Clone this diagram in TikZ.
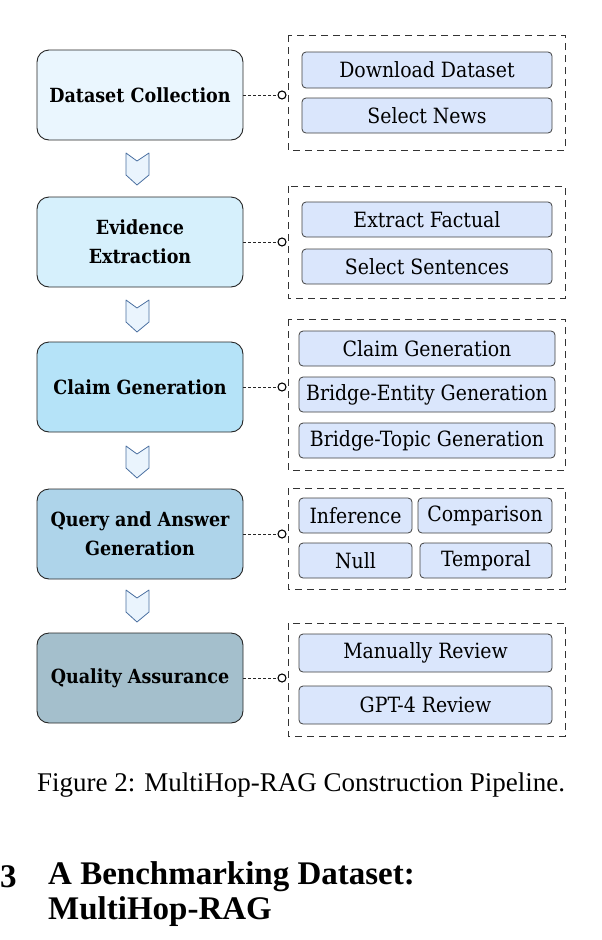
\documentclass[tikz,border=0pt]{standalone}
\usepackage{fontspec}
\setmainfont{Liberation Serif}
\newfontfamily\boxfont{DejaVu Serif Condensed}
\begin{document}
\begin{tikzpicture}[x=1pt,y=-1pt,
  stage/.style={draw=black!85,line width=0.9pt,rounded corners=12pt,minimum width=206pt,align=center,font=\boxfont\bfseries\fontsize{19.5}{29}\selectfont,inner sep=0pt},
  item/.style={draw=black!75,line width=0.8pt,rounded corners=4pt,fill=itemc,inner sep=0pt,font=\boxfont\fontsize{21}{24}\selectfont},
  grp/.style={draw=black!80,dash pattern=on 7pt off 5pt,line width=0.8pt},
  chev/.style={draw=chevd,fill=chevf,line width=0.8pt,line join=round},
  conn/.style={densely dashed,line width=1pt,black!85},
  ring/.style={circle,draw=black,line width=1.1pt,fill=white,inner sep=0pt,minimum size=8pt}]
\definecolor{itemc}{HTML}{DAE6FC}
\definecolor{chevd}{HTML}{4A6FA0}
\definecolor{chevf}{HTML}{EAF4FD}
\definecolor{c1}{HTML}{EAF6FE}
\definecolor{c2}{HTML}{D6F0FC}
\definecolor{c3}{HTML}{B5E3F8}
\definecolor{c4}{HTML}{AED4EA}
\definecolor{c5}{HTML}{A4BFCC}
\useasboundingbox (0,0) rectangle (602,940);
% stages
\node[stage,fill=c1,minimum height=90pt] (s1) at (140,95) {Dataset Collection};
\node[stage,fill=c2,minimum height=90pt] (s2) at (140,242) {Evidence\\Extraction};
\node[stage,fill=c3,minimum height=90pt] (s3) at (140,387) {Claim Generation};
\node[stage,fill=c4,minimum height=90pt] (s4) at (140,534) {Query and Answer\\Generation};
\node[stage,fill=c5,minimum height=90pt] (s5) at (140,678) {Quality Assurance};
% chevrons
\foreach \y in {153,300,446,590}{
  \draw[chev] (126,\y) -- (137,\y+8) -- (149,\y) -- (149,\y+22) -- (137,\y+32) -- (126,\y+22) -- cycle;
}
% groups
\draw[grp] (288,35) rectangle (565,150);
\draw[grp] (288,186) rectangle (565,298);
\draw[grp] (288,319) rectangle (565,470);
\draw[grp] (288,488) rectangle (565,589);
\draw[grp] (288,623) rectangle (565,736);
% items
\node[item,minimum width=250pt,minimum height=36pt] (a1) at (427,70) {Download Dataset};
\node[item,minimum width=250pt,minimum height=35pt] (a2) at (427,115.5) {Select News};
\node[item,minimum width=250pt,minimum height=35pt] (b1) at (427,219.5) {Extract Factual};
\node[item,minimum width=250pt,minimum height=35pt] (b2) at (427,266.5) {Select Sentences};
\node[item,minimum width=256pt,minimum height=35pt] (c1n) at (427,348.5) {Claim Generation};
\node[item,minimum width=256pt,minimum height=35pt] (c2n) at (427,394.5) {Bridge-Entity Generation};
\node[item,minimum width=256pt,minimum height=35pt] (c3n) at (427,440.5) {Bridge-Topic Generation};
\node[item,minimum width=113pt,minimum height=35pt] (d1) at (355.5,515.5) {Inference};
\node[item,minimum width=134pt,minimum height=35pt] (d2) at (485,515.5) {Comparison};
\node[item,minimum width=113pt,minimum height=35pt] (d3) at (355.5,560.5) {Null};
\node[item,minimum width=132pt,minimum height=35pt] (d4) at (486,560.5) {Temporal};
\node[item,minimum width=253pt,minimum height=38pt] (e1) at (425.5,653) {Manually Review};
\node[item,minimum width=253pt,minimum height=38pt] (e2) at (425.5,705) {GPT-4 Review};
% connectors
\foreach \s/\y in {s1/95,s2/242,s3/387,s4/534,s5/678}{
  \coordinate (r\s) at (282,\y);
  \draw[conn] (\s.east) -- (r\s);
  \node[ring] at (r\s) {};
}
% caption and heading
\node[font=\fontsize{27}{30}\selectfont] (cap) at (301,785) {Figure 2: MultiHop-RAG Construction Pipeline.};
\node[font=\bfseries\fontsize{33}{35}\selectfont,anchor=west,inner sep=0pt] (n3) at (0,877) {3};
\node[font=\bfseries\fontsize{33}{35}\selectfont,anchor=west,align=left,inner sep=0pt] (h) at (48,894.5) {A Benchmarking Dataset:\\MultiHop-RAG};
\end{tikzpicture}
\end{document}
